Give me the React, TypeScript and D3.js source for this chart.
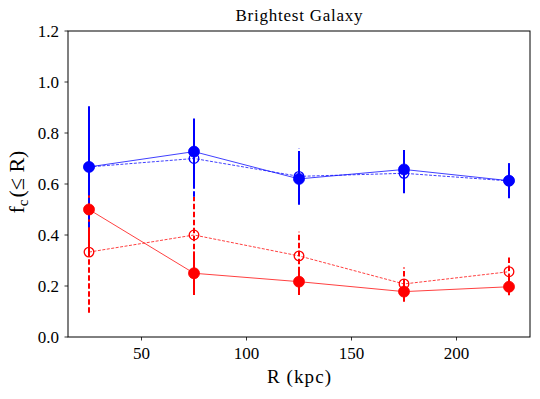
import React from "react";
import * as d3 from "d3";

const radii = [25, 75, 125, 175, 225];
const blueFilled = [0.667, 0.727, 0.62, 0.657, 0.613];
const blueFilledErr = [0.237, 0.13, 0.1, 0.076, 0.068];
const blueOpen = [0.667, 0.7, 0.63, 0.642, 0.612];
const blueOpenErr = [0.237, 0.15, 0.11, 0.078, 0.068];
const redFilled = [0.5, 0.25, 0.217, 0.178, 0.197];
const redFilledErr = [0.167, 0.085, 0.052, 0.04, 0.033];
const redOpen = [0.333, 0.4, 0.318, 0.208, 0.256];
const redOpenErr = [0.238, 0.15, 0.095, 0.065, 0.06];
const xTicks = [50, 100, 150, 200];
const yTicks = [0, 0.2, 0.4, 0.6, 0.8, 1.0, 1.2];

const W = 540, H = 399;
const M = { left: 68, right: 530, top: 31, bottom: 337 };
const FONT = "'Liberation Serif', 'DejaVu Serif', serif";

export default function App() {
  const x = d3.scaleLinear().domain([15, 235]).range([M.left, M.right]);
  const y = d3.scaleLinear().domain([0, 1.2]).range([M.bottom, M.top]);
  const line = d3.line<number>().x((_, i) => x(radii[i])).y((d) => y(d));

  const series = [
    { vals: redFilled, errs: redFilledErr, color: "#ff0000", open: false },
    { vals: blueFilled, errs: blueFilledErr, color: "#0000ff", open: false },
    { vals: redOpen, errs: redOpenErr, color: "#ff0000", open: true },
    { vals: blueOpen, errs: blueOpenErr, color: "#0000ff", open: true },
  ];

  return (
    <svg width={W} height={H} style={{ position: "absolute", left: 0, top: 0, background: "#fff" }}>
      <text x={(M.left + M.right) / 2} y={21} textAnchor="middle" fontFamily={FONT} fontSize={17} textLength={127} lengthAdjust="spacing">
        Brightest Galaxy
      </text>
      {series.map((s, si) => (
        <path
          key={"l" + si}
          d={line(s.vals) || ""}
          fill="none"
          stroke={s.color}
          strokeOpacity={0.75}
          strokeWidth={1}
          strokeDasharray={s.open ? "3,1.5" : undefined}
        />
      ))}
      {series.map((s, si) => (
        <g key={"e" + si}>
          {s.vals.map((v, i) => (
            <line
              key={i}
              x1={x(radii[i])}
              x2={x(radii[i])}
              y1={y(v - s.errs[i])}
              y2={y(v + s.errs[i])}
              stroke={s.color}
              strokeWidth={2}
              strokeDasharray={s.open ? "5.5,2.5" : undefined}
            />
          ))}
        </g>
      ))}
      {series.map((s, si) => (
        <g key={"m" + si}>
          {s.vals.map((v, i) => (
            <circle
              key={i}
              cx={x(radii[i])}
              cy={y(v)}
              r={s.open ? 4.8 : 5.5}
              fill={s.open ? "none" : s.color}
              stroke={s.color}
              strokeWidth={s.open ? 1.3 : 0.8}
            />
          ))}
        </g>
      ))}
      <rect
        x={M.left}
        y={M.top}
        width={M.right - M.left}
        height={M.bottom - M.top}
        fill="none"
        stroke="#000"
        strokeWidth={1}
      />
      {xTicks.map((t) => (
        <g key={t}>
          <line x1={x(t)} x2={x(t)} y1={M.bottom} y2={M.bottom + 3.5} stroke="#000" strokeWidth={0.8} />
          <text x={x(t)} y={M.bottom + 22} textAnchor="middle" fontFamily={FONT} fontSize={17}>
            {t}
          </text>
        </g>
      ))}
      {yTicks.map((t) => (
        <g key={t}>
          <line x1={M.left - 3.5} x2={M.left} y1={y(t)} y2={y(t)} stroke="#000" strokeWidth={0.8} />
          <text x={M.left - 9} y={y(t) + 5.5} textAnchor="end" fontFamily={FONT} fontSize={17}>
            {t.toFixed(1)}
          </text>
        </g>
      ))}
      <text x={(M.left + M.right) / 2} y={383} textAnchor="middle" fontFamily={FONT} fontSize={19} textLength={64} lengthAdjust="spacing">
        R (kpc)
      </text>
      <text
        transform={`translate(24, ${182}) rotate(-90)`}
        textAnchor="middle"
        fontFamily={FONT}
        fontSize={22}
      >
        f<tspan fontSize={15} dy={4}>c</tspan>
        <tspan dy={-4} dx={2}>(≤ R)</tspan>
      </text>
    </svg>
  );
}
